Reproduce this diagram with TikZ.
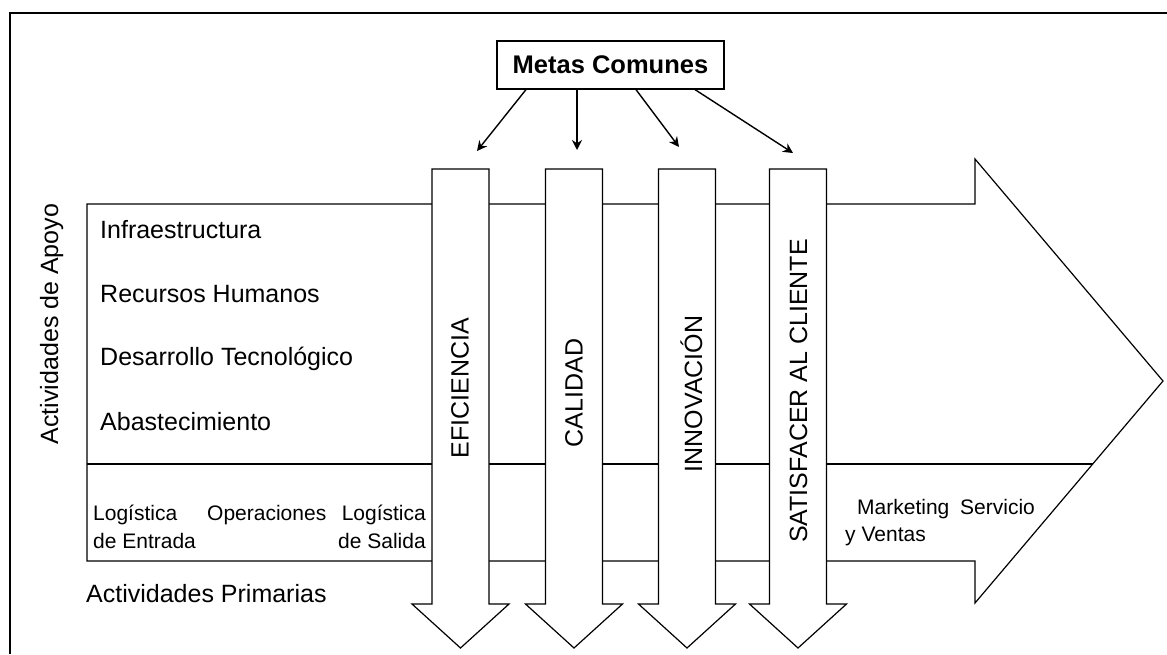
\documentclass[tikz,border=0pt]{standalone}
\usepackage{fontspec}
\setmainfont{Liberation Sans}
\usetikzlibrary{arrows.meta}

\begin{document}
\begin{tikzpicture}[x=1pt,y=-1pt,
  shape line/.style={draw=black,line width=1.2pt,line join=miter},
  frame line/.style={draw=black,line width=2.2pt},
  big/.style={font=\fontsize{25}{30}\selectfont,inner sep=0pt},
  small/.style={font=\fontsize{21}{25}\selectfont,inner sep=0pt},
  vlabel/.style={font=\fontsize{25}{30}\selectfont,inner sep=0pt,rotate=90,
                 text height=18pt,text depth=0pt,anchor=center},
  goalbox/.style={draw=black,line width=1.2pt,minimum width=227pt,minimum height=48pt,
                  inner sep=0pt,font=\fontsize{25.5}{30}\bfseries\selectfont},
  goal arrow/.style={draw=black,line width=1.4pt,-{Stealth[length=10pt,width=10pt]}}
]
\useasboundingbox (0,0) rectangle (1167,654);

% outer frame (top and left edges)
\draw[frame line] (10,654) -- (10,13) -- (1167,13);

% value chain arrow
\draw[shape line,fill=white]
  (87,204) -- (975,204) -- (975,159) -- (1163,381) -- (975,603) -- (975,561)
  -- (87,561) -- cycle;
\draw[shape line] (87,464) -- (1093,464);

% vertical goal arrows: centre x, shaft half width 28.5, head overhang 20
\foreach \cx/\nm in {460.5/a, 574/b, 687/c, 798/d}{
  \draw[shape line,fill=white]
    (\cx-28.5,169) -- (\cx+28.5,169) -- (\cx+28.5,604) -- (\cx+48.5,604)
    -- (\cx,648) -- (\cx-48.5,604) -- (\cx-28.5,604) -- cycle;
}

% goal labels
\node[vlabel] (lab1) at (459.5,388) {EFICIENCIA};
\node[vlabel] (lab2) at (573.5,393) {CALIDAD};
\node[vlabel] (lab3) at (693,394) {INNOVACIÓN};
\node[vlabel] (lab4) at (798,391) {SATISFACER AL CLIENTE};

% common goals box and its connectors
\node[goalbox] (metas) at (610.5,65) {Metas Comunes};
\coordinate (g1) at (477,151);
\coordinate (g2) at (577,150);
\coordinate (g3) at (679,147);
\coordinate (g4) at (793,153);
\draw[goal arrow] ([xshift=-84.5pt]metas.south) -- (g1);
\draw[goal arrow] ([xshift=-33.5pt]metas.south) -- (g2);
\draw[goal arrow] ([xshift=25.5pt]metas.south) -- (g3);
\draw[goal arrow] ([xshift=84.5pt]metas.south) -- (g4);

% support activities
\node[big,rotate=90,anchor=base] (apoyo) at (58,324) {Actividades de Apoyo};
\node[big,anchor=base west] (s1) at (100,238) {Infraestructura};
\node[big,anchor=base west] (s2) at (100,302) {Recursos Humanos};
\node[big,anchor=base west] (s3) at (100,365) {Desarrollo Tecnológico};
\node[big,anchor=base west] (s4) at (100,430) {Abastecimiento};

% primary activities
\node[small,anchor=base west] (p1a) at (93,520) {Logística};
\node[small,anchor=base west] (p1b) at (93,548) {de Entrada};
\node[small,anchor=base west] (p2) at (207,520) {Operaciones};
\node[small,anchor=base east] (p3a) at (426,520) {Logística};
\node[small,anchor=base east] (p3b) at (426,548) {de Salida};
\node[small,anchor=base west] (p4a) at (857,514) {Marketing};
\node[small,anchor=base west] (p5) at (960,514) {Servicio};
\node[small,anchor=base west] (p4b) at (845,541) {y Ventas};
\node[big,anchor=base west] (prim) at (86,602) {Actividades Primarias};
\end{tikzpicture}
\end{document}
